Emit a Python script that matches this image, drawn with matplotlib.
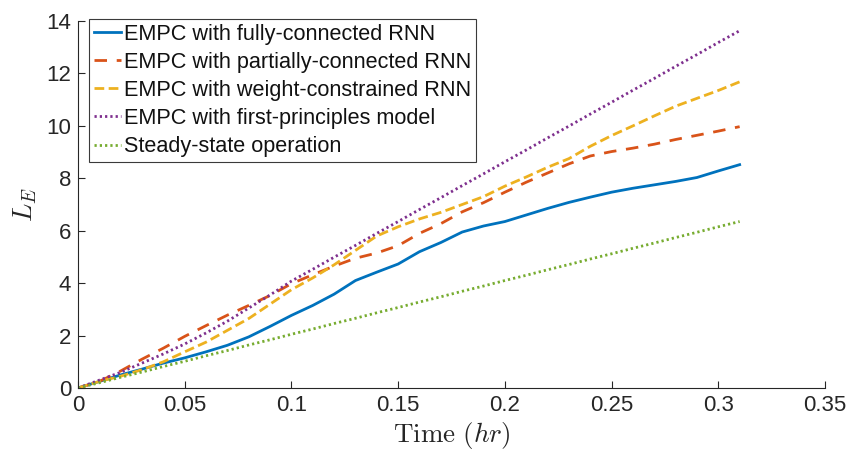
import matplotlib
matplotlib.use("Agg")
import matplotlib.pyplot as plt

time = [0.00, 0.01, 0.02, 0.03, 0.04, 0.05, 0.06, 0.07, 0.08, 0.09,
        0.10, 0.11, 0.12, 0.13, 0.14, 0.15, 0.16, 0.17, 0.18, 0.19,
        0.20, 0.21, 0.22, 0.23, 0.24, 0.25, 0.26, 0.27, 0.28, 0.29,
        0.30, 0.31]

fully_connected = [0.00, 0.25, 0.50, 0.72, 0.95, 1.15, 1.38, 1.63, 1.95, 2.35,
                   2.77, 3.15, 3.58, 4.10, 4.42, 4.73, 5.20, 5.55, 5.95, 6.18,
                   6.35, 6.60, 6.85, 7.08, 7.28, 7.47, 7.62, 7.75, 7.88, 8.03,
                   8.28, 8.52]

partially_connected = [0.00, 0.25, 0.65, 1.10, 1.52, 1.97, 2.38, 2.78, 3.15, 3.53,
                       3.98, 4.32, 4.65, 4.95, 5.15, 5.43, 5.90, 6.27, 6.72, 7.07,
                       7.47, 7.85, 8.20, 8.55, 8.85, 9.02, 9.15, 9.30, 9.48, 9.64,
                       9.80, 9.97]

weight_constrained = [0.00, 0.25, 0.45, 0.70, 1.00, 1.38, 1.75, 2.20, 2.65, 3.20,
                      3.75, 4.20, 4.70, 5.25, 5.80, 6.15, 6.45, 6.70, 7.00, 7.30,
                      7.70, 8.05, 8.42, 8.75, 9.22, 9.63, 10.00, 10.38, 10.75, 11.05,
                      11.35, 11.68]

first_principles = [0.00, 0.30, 0.60, 0.95, 1.30, 1.68, 2.10, 2.55, 3.05, 3.55,
                    4.08, 4.53, 4.99, 5.44, 5.90, 6.35, 6.81, 7.26, 7.72, 8.17,
                    8.63, 9.08, 9.54, 9.99, 10.45, 10.90, 11.36, 11.81, 12.27, 12.72,
                    13.18, 13.63]

steady_state = [0.00, 0.20, 0.41, 0.61, 0.82, 1.02, 1.23, 1.43, 1.64, 1.84,
                2.05, 2.25, 2.46, 2.66, 2.87, 3.07, 3.28, 3.48, 3.69, 3.89,
                4.10, 4.30, 4.51, 4.71, 4.92, 5.12, 5.33, 5.53, 5.74, 5.94,
                6.15, 6.35]

labels = ["EMPC with fully-connected RNN",
          "EMPC with partially-connected RNN",
          "EMPC with weight-constrained RNN",
          "EMPC with first-principles model",
          "Steady-state operation"]

xticks = [0, 0.05, 0.1, 0.15, 0.2, 0.25, 0.3, 0.35]
xticklabels = ["0", "0.05", "0.1", "0.15", "0.2", "0.25", "0.3", "0.35"]
yticks = [0, 2, 4, 6, 8, 10, 12, 14]

plt.rcParams['font.family'] = ['Liberation Sans', 'DejaVu Sans']
plt.rcParams['mathtext.fontset'] = 'cm'

axcol = '#262626'
fig = plt.figure(figsize=(8.5, 4.53), dpi=100)
ax = fig.add_axes([0.0918, 0.1435, 0.8788, 0.8101])

lw = 2.0
ax.plot(time, fully_connected, color='#0072BD', lw=lw, ls='-', label=labels[0])
ax.plot(time, partially_connected, color='#D95319', lw=lw, ls=(0, (4.5, 3.5)), label=labels[1])
ax.plot(time, weight_constrained, color='#EDB120', lw=lw, ls=(0, (3.5, 1.6)), label=labels[2])
ax.plot(time, first_principles, color='#7E2F8E', lw=lw, ls=(0, (0.8, 1.1)), label=labels[3])
ax.plot(time, steady_state, color='#77AC30', lw=lw, ls=(0, (0.8, 1.1)), label=labels[4])

ax.set_xlim(0, 0.35)
ax.set_ylim(0, 14)
ax.set_xticks(xticks)
ax.set_xticklabels(xticklabels)
ax.set_yticks(yticks)
ax.tick_params(direction='in', length=5, width=0.8, colors=axcol, labelsize=16,
               top=False, right=False, pad=5)
ax.spines['top'].set_visible(False)
ax.spines['right'].set_visible(False)
for s in ('left', 'bottom'):
    ax.spines[s].set_color(axcol)
    ax.spines[s].set_linewidth(0.8)

ax.set_xlabel(r"$\mathrm{Time}\ (hr)$", fontsize=19.5, color=axcol, labelpad=3)
ax.set_ylabel(r"$L_E$", fontsize=19.5, color=axcol, labelpad=5)

leg = ax.legend(loc='upper left', bbox_to_anchor=(0.015, 1.006), fontsize=15.6,
                handlelength=1.25, handletextpad=0.15, borderpad=0.22,
                labelspacing=0.33, fancybox=False, framealpha=1, borderaxespad=0.0)
leg.get_frame().set_edgecolor('#3a3a3a')
leg.get_frame().set_linewidth(0.8)
for t in leg.get_texts():
    t.set_color('#111111')

fig.savefig("out.png", dpi=100)
